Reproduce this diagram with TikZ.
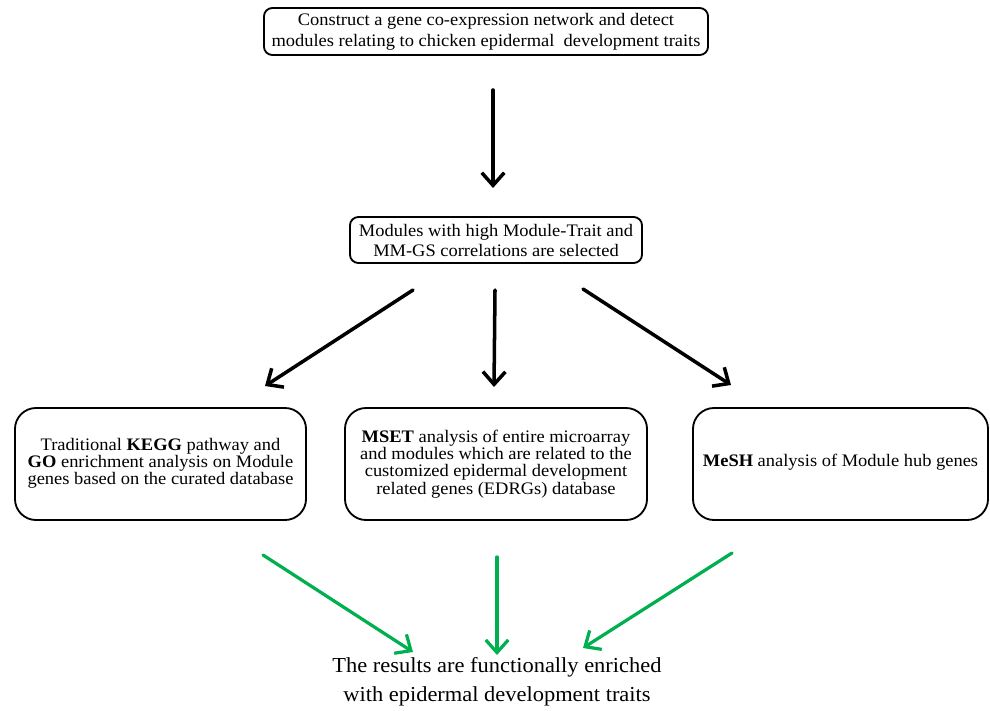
\documentclass[tikz,border=0pt]{standalone}
\usepackage{fontspec}
\setmainfont{Liberation Serif}[FakeStretch=1.05]
\usetikzlibrary{arrows.meta}
\definecolor{arrowgreen}{RGB}{0,176,80}
\begin{document}
\begin{tikzpicture}[x=0.025cm,y=-0.025cm,
  box/.style={draw,line width=1.3pt,align=center,inner sep=0pt,
    font=\fontsize{12.5}{15}\selectfont},
  smallround/.style={box,rounded corners=6pt},
  biground/.style={box,rounded corners=15pt,font=\fontsize{12.5}{12.2}\selectfont},
  blackarrow/.style={line width=2.5pt,-{Straight Barb[length=9pt,width=16pt]},line cap=round},
  greenarrow/.style={line width=2.3pt,draw=arrowgreen,-{Straight Barb[length=9pt,width=16pt]},line cap=round}]
\useasboundingbox (0,0) rectangle (990,710);

\node[smallround,minimum width=11.1cm,minimum height=1.175cm] (top) at (486,31.5)
  {Construct a gene co-expression network and detect\\modules relating to chicken epidermal\ \ development traits};
\node[smallround,minimum width=7.3cm,minimum height=1.15cm,font=\fontsize{12.5}{14.2}\selectfont] (sel) at (496,240)
  {Modules with high Module-Trait and\\MM-GS correlations are selected};
\node[biground,minimum width=7.275cm,minimum height=2.8cm] (kegg) at (160.5,464)
  {\raisebox{3pt}{\begin{tabular}{@{}c@{}}Traditional \textbf{KEGG} pathway and\\\textbf{GO} enrichment analysis on Module\\genes based on the curated database\end{tabular}}};
\node[biground,minimum width=7.55cm,minimum height=2.8cm] (mset) at (496,464)
  {\textbf{MSET} analysis of entire microarray\\and modules which are related to the\\customized epidermal development\\related genes (EDRGs) database};
\node[biground,minimum width=7.375cm,minimum height=2.8cm] (mesh) at (840.5,464)
  {\raisebox{5pt}{\textbf{MeSH} analysis of Module hub genes}};
\node[align=center,inner sep=0pt,font=\fontsize{15.2}{20.6}\selectfont] (res) at (497,682)
  {The results are functionally enriched\\with epidermal development traits};

\coordinate (a1s) at (493,90);  \coordinate (a1e) at (493,188);
\coordinate (b1s) at (413,290); \coordinate (b1e) at (265,386);
\coordinate (b2s) at (495,290); \coordinate (b2e) at (494,387);
\coordinate (b3s) at (583,289); \coordinate (b3e) at (731,385);
\coordinate (g1s) at (263,555); \coordinate (g1e) at (413,652);
\coordinate (g2s) at (497,557); \coordinate (g2e) at (497,655);
\coordinate (g3s) at (732,553); \coordinate (g3e) at (583,648);

\draw[blackarrow] (a1s) -- (a1e);
\draw[blackarrow] (b1s) -- (b1e);
\draw[blackarrow] (b2s) -- (b2e);
\draw[blackarrow] (b3s) -- (b3e);
\draw[greenarrow] (g1s) -- (g1e);
\draw[greenarrow] (g2s) -- (g2e);
\draw[greenarrow] (g3s) -- (g3e);
\end{tikzpicture}
\end{document}
